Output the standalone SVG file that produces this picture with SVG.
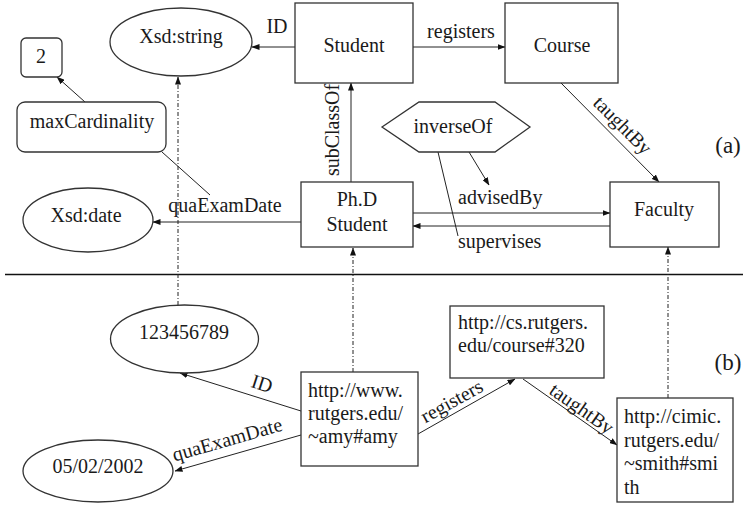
<svg xmlns="http://www.w3.org/2000/svg" width="743" height="506" viewBox="0 0 743 506">
  <style>
    .shape { fill: #fff; stroke: #333; stroke-width: 1.3; }
    .edge { fill: none; stroke: #222; stroke-width: 1; }
    .arrow { marker-end: url(#head); }
    .dashdot { stroke-dasharray: 4 2 1 2; }
    text { font-family: "Liberation Serif", "Times New Roman", serif; font-size: 20px; fill: #1a1a1a; }
    .mid { text-anchor: middle; }
    .part { font-size: 23px; }
  </style>
  <defs>
    <marker id="head" markerUnits="userSpaceOnUse" markerWidth="8" markerHeight="6" refX="7.5" refY="3" orient="auto">
      <path d="M0,0 L8,3 L0,6 z" fill="#111"/>
    </marker>
  </defs>

  <rect width="743" height="506" fill="#fff"/>

  <!-- divider between schema (a) and instance (b) -->
  <line x1="5" y1="274.5" x2="743" y2="274.5" stroke="#111" stroke-width="1.3"/>
  <text class="mid part" x="728" y="153">(a)</text>
  <text class="mid part" x="728" y="370">(b)</text>

  <g id="connectors">
    <line class="edge arrow" x1="295" y1="47" x2="252" y2="47"/>
    <line class="edge arrow" x1="413" y1="47" x2="505" y2="47"/>
    <line class="edge arrow" x1="561" y1="83" x2="659" y2="182"/>
    <line class="edge arrow" x1="351" y1="182" x2="351" y2="83"/>
    <line class="edge arrow" x1="301" y1="222" x2="153" y2="222"/>
    <line class="edge arrow" x1="413" y1="213" x2="610" y2="213"/>
    <line class="edge arrow" x1="612" y1="226" x2="413" y2="226"/>
    <line class="edge arrow" x1="469" y1="152" x2="489" y2="185"/>
    <line class="edge" x1="438" y1="152" x2="458" y2="236"/>
    <line class="edge arrow" x1="85" y1="102" x2="57" y2="77"/>
    <line class="edge" x1="162" y1="152" x2="210" y2="195"/>
    <line class="edge arrow dashdot" x1="178" y1="305" x2="178" y2="77"/>
    <line class="edge arrow dashdot" x1="353" y1="372" x2="353" y2="248"/>
    <line class="edge arrow dashdot" x1="668" y1="398" x2="668" y2="247"/>
    <line class="edge arrow" x1="301" y1="411" x2="180" y2="373"/>
    <line class="edge arrow" x1="301" y1="435" x2="175" y2="471"/>
    <line class="edge arrow" x1="418" y1="434" x2="515" y2="379"/>
    <line class="edge arrow" x1="523" y1="379" x2="617" y2="445"/>

    <!-- edge labels -->
    <text class="mid" x="277" y="33">ID</text>
    <text class="mid" x="461" y="38">registers</text>
    <text class="mid" transform="translate(339,130) rotate(-90)">subClassOf</text>
    <text class="mid" transform="translate(618,130) rotate(45)">taughtBy</text>
    <text class="mid" x="225" y="212">quaExamDate</text>
    <text x="458" y="204">advisedBy</text>
    <text x="458" y="248">supervises</text>
    <text class="mid" transform="translate(260,390) rotate(18)">ID</text>
    <text class="mid" transform="translate(229,446) rotate(-16)">quaExamDate</text>
    <text class="mid" transform="translate(455,407) rotate(-29)">registers</text>
    <text class="mid" transform="translate(578,414) rotate(35)">taughtBy</text>
  </g>

  <!-- schema nodes -->
  <g id="xsd-string">
    <ellipse class="shape" cx="181" cy="42" rx="71" ry="34"/>
    <text class="mid" x="181" y="43">Xsd:string</text>
  </g>
  <g id="student">
    <rect class="shape" x="295" y="3" width="118" height="80"/>
    <text class="mid" x="354" y="52">Student</text>
  </g>
  <g id="course">
    <rect class="shape" x="505" y="3" width="113" height="80"/>
    <text class="mid" x="562" y="52">Course</text>
  </g>
  <g id="card-value">
    <rect class="shape" x="21" y="38" width="41" height="39" rx="5"/>
    <text class="mid" x="41" y="63">2</text>
  </g>
  <g id="max-cardinality">
    <rect class="shape" x="17" y="102" width="149" height="50" rx="8"/>
    <text class="mid" x="92" y="128">maxCardinality</text>
  </g>
  <g id="inverse-of">
    <polygon class="shape" points="382,127 419,102 495,102 530,127 495,152 419,152"/>
    <text class="mid" x="453" y="133">inverseOf</text>
  </g>
  <g id="xsd-date">
    <ellipse class="shape" cx="88" cy="220" rx="65" ry="32"/>
    <text class="mid" x="86" y="222">Xsd:date</text>
  </g>
  <g id="phd-student">
    <rect class="shape" x="301" y="182" width="112" height="65"/>
    <text class="mid" x="357" y="206">Ph.D</text>
    <text class="mid" x="357" y="231">Student</text>
  </g>
  <g id="faculty">
    <rect class="shape" x="610" y="182" width="109" height="65"/>
    <text class="mid" x="664" y="216">Faculty</text>
  </g>

  <!-- instance nodes -->
  <g id="id-value">
    <ellipse class="shape" cx="184.5" cy="339" rx="74" ry="34"/>
    <text class="mid" x="184" y="339">123456789</text>
  </g>
  <g id="date-value">
    <ellipse class="shape" cx="98" cy="471" rx="75" ry="31"/>
    <text class="mid" x="98" y="473">05/02/2002</text>
  </g>
  <g id="amy">
    <rect class="shape" x="301" y="372" width="117" height="94"/>
    <text x="308" y="397">http://www.</text>
    <text x="308" y="420">rutgers.edu/</text>
    <text x="308" y="443">~amy#amy</text>
  </g>
  <g id="course-320">
    <rect class="shape" x="450" y="306" width="154" height="72"/>
    <text x="458" y="329">http://cs.rutgers.</text>
    <text x="458" y="352">edu/course#320</text>
  </g>
  <g id="smith">
    <rect class="shape" x="617" y="398" width="116" height="104"/>
    <text x="624" y="423">http://cimic.</text>
    <text x="624" y="447">rutgers.edu/</text>
    <text x="624" y="470">~smith#smi</text>
    <text x="624" y="494">th</text>
  </g>
</svg>
